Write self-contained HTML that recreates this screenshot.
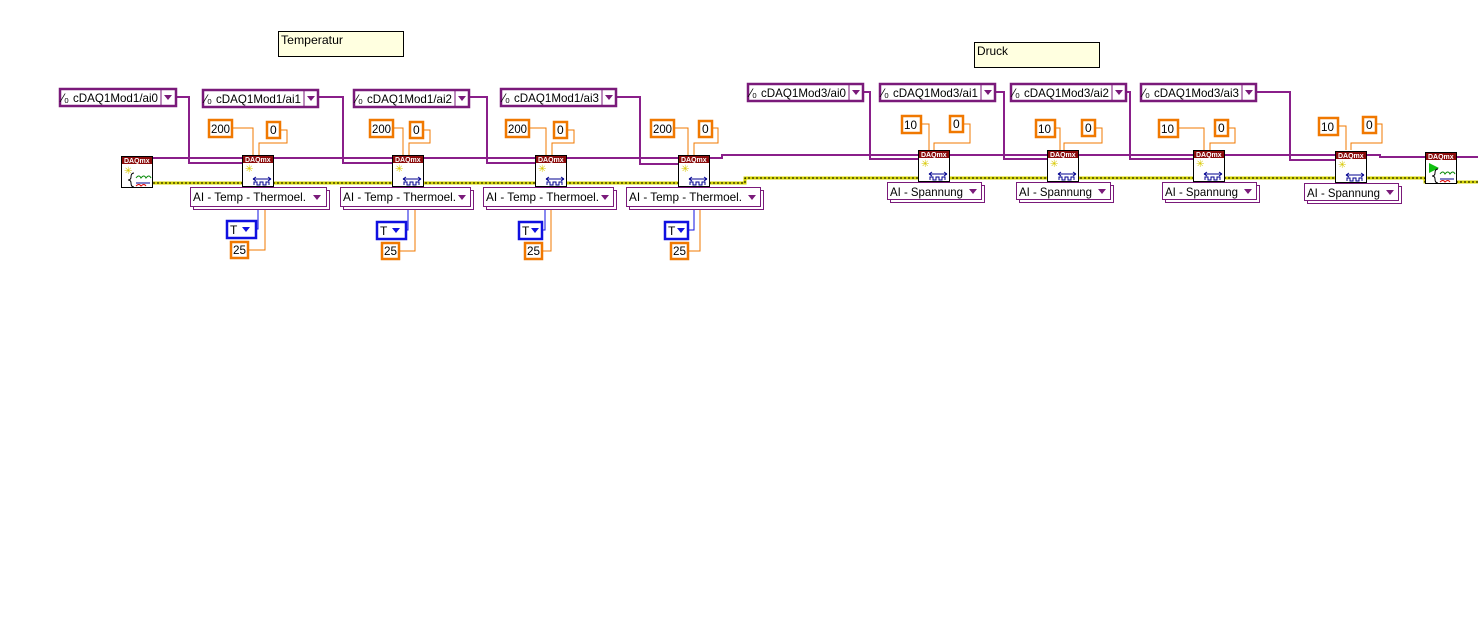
<!DOCTYPE html>
<html><head><meta charset="utf-8"><style>
html,body{margin:0;padding:0;background:#fff;}
svg{display:block;font-family:"Liberation Sans",sans-serif;}
.p{fill:none;stroke:#8a1f8a;stroke-width:2;}
.o{fill:none;stroke:#f07800;stroke-width:1;}
.b{fill:none;stroke:#1010e0;stroke-width:1;}
.ey{fill:none;stroke:#d4d400;stroke-width:3;}
.ek{fill:none;stroke:#000;stroke-width:1;stroke-dasharray:2 2;}
.cc{fill:#fff;stroke:#7a1a7a;stroke-width:2.5;}
.num{fill:#fff;stroke:#f07800;stroke-width:2.5;}
.en{fill:#fff;stroke:#7a1a7a;stroke-width:1;}
.tb{fill:#fff;stroke:#1010e0;stroke-width:2.5;}
.nd{fill:#fff;stroke:#000;stroke-width:1;}
.hd{fill:#8a0a0a;}
text{font-size:12px;fill:#000;}
.h{font-size:7px;fill:#fff;font-weight:bold;}
.cm{fill:#ffffe0;stroke:#000;stroke-width:1;}
</style></head><body>
<svg width="1478" height="630" viewBox="0 0 1478 630">
<rect class="cm" x="278.5" y="31.5" width="125" height="25"/><text x="281" y="44" textLength="62" lengthAdjust="spacingAndGlyphs">Temperatur</text>
<rect class="cm" x="974.5" y="42.5" width="125" height="25"/><text x="977" y="55" textLength="31" lengthAdjust="spacingAndGlyphs">Druck</text>

<polyline class="ey" points="153,183 745,183 745,178 1425,178 1425,182 1478,182"/>
<polyline class="ek" points="153,183 745,183 745,178 1425,178 1425,182 1478,182"/>

<polyline class="p" points="153,158 678,158"/>
<polyline class="p" points="709,158 722,158 722,155 918,155"/>
<polyline class="p" points="949,155 1335,155"/>
<polyline class="p" points="1366,155 1380,155 1380,157 1425,157"/>
<polyline class="p" points="1456,157 1478,157"/>

<polyline class="p" points="176,97 189,97 189,163 242,163"/>
<polyline class="p" points="318,97 343,97 343,163 392,163"/>
<polyline class="p" points="469,97 487,97 487,163 535,163"/>
<polyline class="p" points="616,97 640,97 640,164 678,164"/>
<polyline class="p" points="863,92 870,92 870,159 918,159"/>
<polyline class="p" points="995,92 1004,92 1004,159 1047,159"/>
<polyline class="p" points="1126,92 1130,92 1130,159 1193,159"/>
<polyline class="p" points="1256,92 1290,92 1290,160 1335,160"/>

<g>
<rect class="cc" x="60" y="89" width="116" height="17"/><text x="62" y="102">⁄₀</text><text x="73" y="102" textLength="85" lengthAdjust="spacingAndGlyphs">cDAQ1Mod1/ai0</text><line x1="161" y1="89" x2="161" y2="106" stroke="#7a1a7a"/><path d="M164,95 h8 l-4,5z" fill="#7a1a7a"/>
<rect class="cc" x="203" y="90" width="115" height="17"/><text x="205" y="103">⁄₀</text><text x="216" y="103" textLength="85" lengthAdjust="spacingAndGlyphs">cDAQ1Mod1/ai1</text><line x1="304" y1="90" x2="304" y2="107" stroke="#7a1a7a"/><path d="M307,96 h8 l-4,5z" fill="#7a1a7a"/>
<rect class="cc" x="354" y="90" width="115" height="17"/><text x="356" y="103">⁄₀</text><text x="367" y="103" textLength="85" lengthAdjust="spacingAndGlyphs">cDAQ1Mod1/ai2</text><line x1="455" y1="90" x2="455" y2="107" stroke="#7a1a7a"/><path d="M458,96 h8 l-4,5z" fill="#7a1a7a"/>
<rect class="cc" x="501" y="89" width="115" height="17"/><text x="503" y="102">⁄₀</text><text x="514" y="102" textLength="85" lengthAdjust="spacingAndGlyphs">cDAQ1Mod1/ai3</text><line x1="602" y1="89" x2="602" y2="106" stroke="#7a1a7a"/><path d="M605,95 h8 l-4,5z" fill="#7a1a7a"/>
<rect class="cc" x="748" y="84" width="115" height="17"/><text x="750" y="97">⁄₀</text><text x="761" y="97" textLength="85" lengthAdjust="spacingAndGlyphs">cDAQ1Mod3/ai0</text><line x1="849" y1="84" x2="849" y2="101" stroke="#7a1a7a"/><path d="M852,90 h8 l-4,5z" fill="#7a1a7a"/>
<rect class="cc" x="880" y="84" width="115" height="17"/><text x="882" y="97">⁄₀</text><text x="893" y="97" textLength="85" lengthAdjust="spacingAndGlyphs">cDAQ1Mod3/ai1</text><line x1="981" y1="84" x2="981" y2="101" stroke="#7a1a7a"/><path d="M984,90 h8 l-4,5z" fill="#7a1a7a"/>
<rect class="cc" x="1011" y="84" width="115" height="17"/><text x="1013" y="97">⁄₀</text><text x="1024" y="97" textLength="85" lengthAdjust="spacingAndGlyphs">cDAQ1Mod3/ai2</text><line x1="1112" y1="84" x2="1112" y2="101" stroke="#7a1a7a"/><path d="M1115,90 h8 l-4,5z" fill="#7a1a7a"/>
<rect class="cc" x="1141" y="84" width="115" height="17"/><text x="1143" y="97">⁄₀</text><text x="1154" y="97" textLength="85" lengthAdjust="spacingAndGlyphs">cDAQ1Mod3/ai3</text><line x1="1242" y1="84" x2="1242" y2="101" stroke="#7a1a7a"/><path d="M1245,90 h8 l-4,5z" fill="#7a1a7a"/>
</g>

<polyline class="o" points="232,128 253,128 253,155"/><polyline class="o" points="280,130 287,130 287,143 259,143 259,155"/>
<polyline class="o" points="393,128 403,128 403,155"/><polyline class="o" points="423,130 430,130 430,143 409,143 409,155"/>
<polyline class="o" points="529,128 546,128 546,155"/><polyline class="o" points="567,130 574,130 574,143 552,143 552,155"/>
<polyline class="o" points="674,128 688,128 688,155"/><polyline class="o" points="712,128 718,128 718,143 694,143 694,155"/>
<polyline class="o" points="921,124 929,124 929,150"/><polyline class="o" points="963,124 970,124 970,143 934,143 934,150"/>
<polyline class="o" points="1055,128 1060,128 1060,150"/><polyline class="o" points="1095,128 1102,128 1102,143 1064,143 1064,150"/>
<polyline class="o" points="1178,128 1204,128 1204,150"/><polyline class="o" points="1228,128 1235,128 1235,143 1210,143 1210,150"/>
<polyline class="o" points="1338,126 1346,126 1346,150"/><polyline class="o" points="1376,124 1382,124 1382,143 1351,143 1351,150"/>

<g>
<rect class="num" x="209" y="120" width="23" height="17"/><text x="211" y="133" textLength="19" lengthAdjust="spacingAndGlyphs">200</text>
<rect class="num" x="267" y="122" width="13" height="16"/><text x="270" y="134">0</text>
<rect class="num" x="370" y="120" width="23" height="17"/><text x="372" y="133" textLength="19" lengthAdjust="spacingAndGlyphs">200</text>
<rect class="num" x="410" y="122" width="13" height="16"/><text x="413" y="134">0</text>
<rect class="num" x="506" y="120" width="23" height="17"/><text x="508" y="133" textLength="19" lengthAdjust="spacingAndGlyphs">200</text>
<rect class="num" x="554" y="122" width="13" height="16"/><text x="557" y="134">0</text>
<rect class="num" x="651" y="120" width="23" height="17"/><text x="653" y="133" textLength="19" lengthAdjust="spacingAndGlyphs">200</text>
<rect class="num" x="699" y="121" width="13" height="16"/><text x="702" y="133">0</text>
<rect class="num" x="902" y="116" width="19" height="17"/><text x="904" y="129" textLength="13" lengthAdjust="spacingAndGlyphs">10</text>
<rect class="num" x="950" y="116" width="13" height="16"/><text x="953" y="128">0</text>
<rect class="num" x="1036" y="120" width="19" height="17"/><text x="1038" y="133" textLength="13" lengthAdjust="spacingAndGlyphs">10</text>
<rect class="num" x="1082" y="120" width="13" height="16"/><text x="1085" y="132">0</text>
<rect class="num" x="1159" y="120" width="19" height="17"/><text x="1161" y="133" textLength="13" lengthAdjust="spacingAndGlyphs">10</text>
<rect class="num" x="1215" y="120" width="13" height="16"/><text x="1218" y="132">0</text>
<rect class="num" x="1319" y="118" width="19" height="17"/><text x="1321" y="131" textLength="13" lengthAdjust="spacingAndGlyphs">10</text>
<rect class="num" x="1363" y="117" width="13" height="16"/><text x="1366" y="129">0</text>
</g>

<polyline class="b" points="256,229 258,229 258,207"/><polyline class="o" points="248,250 265,250 265,207"/>
<polyline class="b" points="406,230 408,230 408,207"/><polyline class="o" points="399,251 415,251 415,207"/>
<polyline class="b" points="542,230 545,230 545,207"/><polyline class="o" points="542,251 551,251 551,207"/>
<polyline class="b" points="688,230 694,230 694,207"/><polyline class="o" points="688,251 700,251 700,207"/>

<g>
<rect class="en" x="193.5" y="190.5" width="136" height="19"/><rect class="en" x="190.5" y="187.5" width="136" height="19"/><text x="193" y="201" textLength="113" lengthAdjust="spacingAndGlyphs">AI - Temp - Thermoel.</text><path d="M313,195 h8 l-4,5z" fill="#7a1a7a"/>
<rect class="en" x="343.5" y="190.5" width="130" height="19"/><rect class="en" x="340.5" y="187.5" width="130" height="19"/><text x="343" y="201" textLength="113" lengthAdjust="spacingAndGlyphs">AI - Temp - Thermoel.</text><path d="M458,195 h8 l-4,5z" fill="#7a1a7a"/>
<rect class="en" x="486.5" y="190.5" width="130" height="19"/><rect class="en" x="483.5" y="187.5" width="130" height="19"/><text x="486" y="201" textLength="113" lengthAdjust="spacingAndGlyphs">AI - Temp - Thermoel.</text><path d="M601,195 h8 l-4,5z" fill="#7a1a7a"/>
<rect class="en" x="629.5" y="190.5" width="134" height="19"/><rect class="en" x="626.5" y="187.5" width="134" height="19"/><text x="629" y="201" textLength="113" lengthAdjust="spacingAndGlyphs">AI - Temp - Thermoel.</text><path d="M748,195 h8 l-4,5z" fill="#7a1a7a"/>
<rect class="en" x="890.5" y="185.5" width="94" height="17"/><rect class="en" x="887.5" y="182.5" width="94" height="17"/><text x="890" y="196" textLength="73" lengthAdjust="spacingAndGlyphs">AI - Spannung</text><path d="M969,189 h8 l-4,5z" fill="#7a1a7a"/>
<rect class="en" x="1019.5" y="185.5" width="94" height="17"/><rect class="en" x="1016.5" y="182.5" width="94" height="17"/><text x="1019" y="196" textLength="73" lengthAdjust="spacingAndGlyphs">AI - Spannung</text><path d="M1098,189 h8 l-4,5z" fill="#7a1a7a"/>
<rect class="en" x="1165.5" y="185.5" width="94" height="17"/><rect class="en" x="1162.5" y="182.5" width="94" height="17"/><text x="1165" y="196" textLength="73" lengthAdjust="spacingAndGlyphs">AI - Spannung</text><path d="M1244,189 h8 l-4,5z" fill="#7a1a7a"/>
<rect class="en" x="1307.5" y="186.5" width="94" height="17"/><rect class="en" x="1304.5" y="183.5" width="94" height="17"/><text x="1307" y="197" textLength="73" lengthAdjust="spacingAndGlyphs">AI - Spannung</text><path d="M1386,190 h8 l-4,5z" fill="#7a1a7a"/>
</g>

<g>
<rect class="tb" x="227" y="221" width="29" height="17"/><text x="230" y="234">T</text><path d="M242,227 h8 l-4,5z" fill="#1010e0"/>
<rect class="num" x="231" y="242" width="17" height="16"/><text x="233" y="254" textLength="13" lengthAdjust="spacingAndGlyphs">25</text>
<rect class="tb" x="377" y="222" width="29" height="17"/><text x="380" y="235">T</text><path d="M392,228 h8 l-4,5z" fill="#1010e0"/>
<rect class="num" x="382" y="243" width="17" height="16"/><text x="384" y="255" textLength="13" lengthAdjust="spacingAndGlyphs">25</text>
<rect class="tb" x="519" y="222" width="23" height="17"/><text x="522" y="235">T</text><path d="M531,228 h8 l-4,5z" fill="#1010e0"/>
<rect class="num" x="525" y="243" width="17" height="16"/><text x="527" y="255" textLength="13" lengthAdjust="spacingAndGlyphs">25</text>
<rect class="tb" x="665" y="222" width="23" height="17"/><text x="668" y="235">T</text><path d="M677,228 h8 l-4,5z" fill="#1010e0"/>
<rect class="num" x="671" y="243" width="17" height="16"/><text x="673" y="255" textLength="13" lengthAdjust="spacingAndGlyphs">25</text>
</g>

<defs>
<g id="cv">
<rect class="nd" x="0.5" y="0.5" width="31" height="31"/><rect class="hd" x="1" y="1" width="30" height="7"/><text class="h" x="3" y="7">DAQmx</text>
<text x="3" y="17" style="font-size:10px;fill:#d8c800">✳</text>
<path d="M11,24 h18 M11,24 l3,-2 M11,24 l3,2 M29,24 l-3,-2 M29,24 l-3,2" stroke="#000090" fill="none"/>
<path d="M12,30 v-3 h3 v3 h3 v-3 h3 v3 h3 v-3 h3 v3" stroke="#000090" fill="none"/>
</g>
<g id="ct">
<rect class="nd" x="0.5" y="0.5" width="31" height="31"/><rect class="hd" x="1" y="1" width="30" height="7"/><text class="h" x="3" y="7">DAQmx</text>
<text x="3" y="18" style="font-size:10px;fill:#d8c800">✳</text>
<path d="M13,17 q-3,0 -3,4 q0,3 -3,3 q3,0 3,3 q0,4 3,4" stroke="#000" fill="none"/>
<path d="M15,22 q3,-4 5,0 q3,-4 5,0 q3,-4 5,0" stroke="#0a8a0a" fill="none"/>
<path d="M15,27 h14" stroke="#000090"/><path d="M15,30 q3,-3 5,0 q3,-3 5,0" stroke="#d00" fill="none"/>
</g>
<g id="cs">
<rect class="nd" x="0.5" y="0.5" width="31" height="31"/><rect class="hd" x="1" y="1" width="30" height="7"/><text class="h" x="3" y="7">DAQmx</text>
<path d="M4,11 l10,5 l-10,5z" fill="#10c010"/>
<path d="M13,17 q-3,0 -3,4 q0,3 -3,3 q3,0 3,3 q0,4 3,4" stroke="#000" fill="none"/>
<path d="M15,22 q3,-4 5,0 q3,-4 5,0 q3,-4 5,0" stroke="#0a8a0a" fill="none"/>
<path d="M15,27 h14" stroke="#000090"/><path d="M15,30 q3,-3 5,0 q3,-3 5,0" stroke="#d00" fill="none"/>
</g>
</defs>
<use href="#ct" x="121" y="156"/>
<use href="#cv" x="242" y="155"/>
<use href="#cv" x="392" y="155"/>
<use href="#cv" x="535" y="155"/>
<use href="#cv" x="678" y="155"/>
<use href="#cv" x="918" y="150"/>
<use href="#cv" x="1047" y="150"/>
<use href="#cv" x="1193" y="150"/>
<use href="#cv" x="1335" y="151"/>
<use href="#cs" x="1425" y="152"/>
</svg>
</body></html>
